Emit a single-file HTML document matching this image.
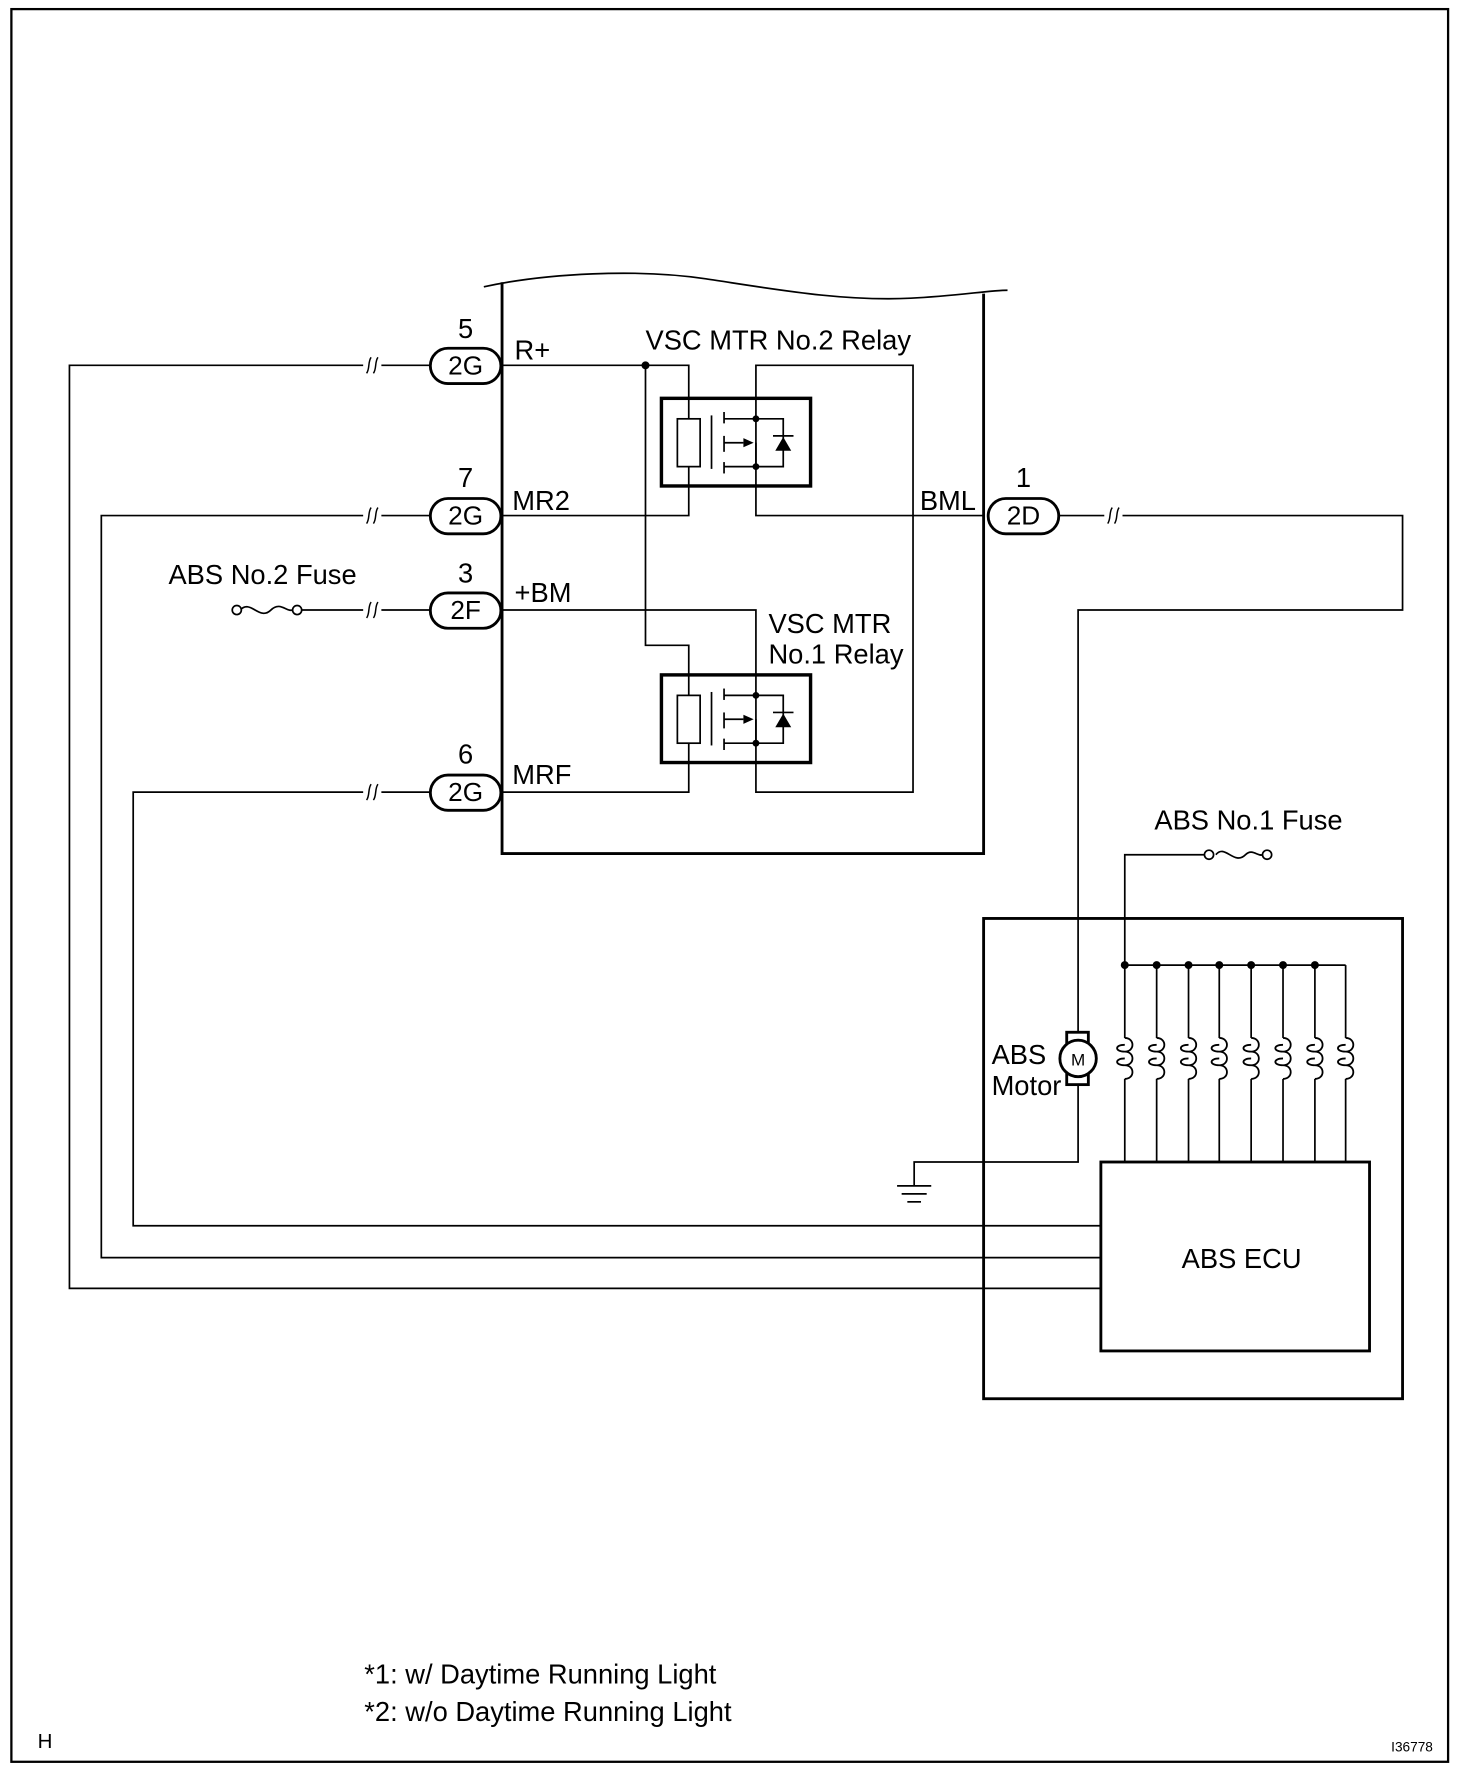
<!DOCTYPE html>
<html><head><meta charset="utf-8"><style>
html,body{margin:0;padding:0;background:#fff}
svg{display:block}
text{font-family:"Liberation Sans",sans-serif;fill:#000}
</style></head><body>
<svg width="1472" height="1780" viewBox="0 0 1293 1564" preserveAspectRatio="none" xmlns="http://www.w3.org/2000/svg">
<defs>
<g id="relay">
 <rect x="0" y="0" width="131" height="77" fill="none" stroke="#000" stroke-width="3"/>
 <rect x="14" y="18" width="20" height="42" fill="#fff" stroke="#000" stroke-width="1.5"/>
 <line x1="44" y1="15" x2="44" y2="62" stroke="#000" stroke-width="1.5"/>
 <line x1="55" y1="12" x2="55" y2="22" stroke="#000" stroke-width="1.5"/>
 <line x1="55" y1="33" x2="55" y2="47" stroke="#000" stroke-width="1.5"/>
 <line x1="55" y1="56" x2="55" y2="66" stroke="#000" stroke-width="1.5"/>
 <line x1="55" y1="18" x2="83" y2="18" stroke="#000" stroke-width="1.5"/>
 <line x1="55" y1="60" x2="83" y2="60" stroke="#000" stroke-width="1.5"/>
 <line x1="55" y1="39" x2="72" y2="39" stroke="#000" stroke-width="1.5"/>
 <polygon points="72,35 81,39 72,43" fill="#000"/>
 <line x1="83" y1="39" x2="83" y2="60" stroke="#000" stroke-width="1.5"/>
 <polyline points="83,18 107,18 107,60 83,60" fill="none" stroke="#000" stroke-width="1.5"/>
 <polygon points="107,34 100,46 114,46" fill="#000"/>
 <line x1="98" y1="33" x2="116" y2="33" stroke="#000" stroke-width="1.5"/>
 <circle cx="83" cy="18" r="3" fill="#000"/>
 <circle cx="83" cy="60" r="3" fill="#000"/>
</g>
<g id="brk">
 <path d="M-5,7 C-2,3 -4,-3 -1,-7" fill="none" stroke="#000" stroke-width="1.3"/>
 <path d="M1,7 C4,3 2,-3 5,-7" fill="none" stroke="#000" stroke-width="1.3"/>
</g>
<g id="coil">
 <path d="M0,0 C9,0 9,12 0,12 C-9,12 -9,6 0,6 M0,12 C9,12 9,24 0,24 C-9,24 -9,18 0,18 M0,24 C9,24 9,36 0,36" fill="none" stroke="#000" stroke-width="1.6"/>
</g>
</defs>
<g stroke="#000" fill="none">
<rect x="10" y="8" width="1262" height="1540" stroke-width="2"/>
<path d="M425,252 C480,240 560,236 620,245 C680,254 740,265 800,262 C840,260 870,255 885,255" stroke-width="1.5"/>
<polyline points="441,248 441,750 864,750 864,258" stroke-width="2.5"/>
<g stroke-width="1.5">
<polyline points="441,321 605,321 605,453 441,453"/>
<polyline points="567,321 567,567 605,567 605,696 441,696"/>
<polyline points="441,536 664,536 664,696 802,696 802,321 664,321 664,453 864,453"/>
<polyline points="378,321 61,321 61,1132 968,1132"/>
<polyline points="378,453 89,453 89,1105 968,1105"/>
<polyline points="378,696 117,696 117,1077 968,1077"/>
<line x1="264" y1="536" x2="378" y2="536"/>
<path d="M211,536 C220,526 228,546 238,536 C246,528 252,538 257,536"/>
<polyline points="931,453 1232,453 1232,536 947,536 947,908"/>
<polyline points="947,951 947,1021 803,1021 803,1042"/>
<line x1="788" y1="1042" x2="818" y2="1042"/>
<line x1="792" y1="1049" x2="814" y2="1049"/>
<line x1="797" y1="1056" x2="809" y2="1056"/>
<polyline points="1060,751 988,751 988,848 1182,848"/>
<path d="M1068,751 C1076,741 1084,761 1094,751 C1100,745 1105,753 1109,751"/>
</g>
<circle cx="208" cy="536" r="4" fill="#fff" stroke-width="1.5"/>
<circle cx="261" cy="536" r="4" fill="#fff" stroke-width="1.5"/>
<circle cx="1062" cy="751" r="4" fill="#fff" stroke-width="1.5"/>
<circle cx="1113" cy="751" r="4" fill="#fff" stroke-width="1.5"/>
<g stroke-width="2.5" fill="#fff">
<rect x="378" y="306" width="62" height="31" rx="15.5"/>
<rect x="378" y="438" width="62" height="31" rx="15.5"/>
<rect x="378" y="521" width="62" height="31" rx="15.5"/>
<rect x="378" y="681" width="62" height="31" rx="15.5"/>
<rect x="868" y="438" width="62" height="31" rx="15.5"/>
</g>
<rect x="864" y="807" width="368" height="422" stroke-width="2.5"/>
<rect x="967" y="1021" width="236" height="166" stroke-width="2.5"/>
<rect x="937" y="907" width="19" height="46" fill="#fff" stroke-width="2.5"/>
<circle cx="947" cy="930" r="16" fill="#fff" stroke-width="2.5"/>
</g>
<use href="#relay" x="581" y="350"/>
<use href="#relay" x="581" y="593"/>
<g fill="#000">
<circle cx="567" cy="321" r="3.5"/>
<circle cx="988" cy="848" r="3.5"/><circle cx="1016" cy="848" r="3.5"/><circle cx="1044" cy="848" r="3.5"/><circle cx="1071" cy="848" r="3.5"/><circle cx="1099" cy="848" r="3.5"/><circle cx="1127" cy="848" r="3.5"/><circle cx="1155" cy="848" r="3.5"/>
</g>
<g stroke="#000" stroke-width="1.5">
<line x1="988" y1="848" x2="988" y2="912"/><line x1="988" y1="948" x2="988" y2="1021"/>
<line x1="1016" y1="848" x2="1016" y2="912"/><line x1="1016" y1="948" x2="1016" y2="1021"/>
<line x1="1044" y1="848" x2="1044" y2="912"/><line x1="1044" y1="948" x2="1044" y2="1021"/>
<line x1="1071" y1="848" x2="1071" y2="912"/><line x1="1071" y1="948" x2="1071" y2="1021"/>
<line x1="1099" y1="848" x2="1099" y2="912"/><line x1="1099" y1="948" x2="1099" y2="1021"/>
<line x1="1127" y1="848" x2="1127" y2="912"/><line x1="1127" y1="948" x2="1127" y2="1021"/>
<line x1="1155" y1="848" x2="1155" y2="912"/><line x1="1155" y1="948" x2="1155" y2="1021"/>
<line x1="1182" y1="848" x2="1182" y2="912"/><line x1="1182" y1="948" x2="1182" y2="1021"/>
</g>
<use href="#coil" x="988" y="912"/><use href="#coil" x="1016" y="912"/><use href="#coil" x="1044" y="912"/><use href="#coil" x="1071" y="912"/>
<use href="#coil" x="1099" y="912"/><use href="#coil" x="1127" y="912"/><use href="#coil" x="1155" y="912"/><use href="#coil" x="1182" y="912"/>
<rect x="319" y="310" width="16" height="22" fill="#fff"/>
<rect x="319" y="442" width="16" height="22" fill="#fff"/>
<rect x="319" y="525" width="16" height="22" fill="#fff"/>
<rect x="319" y="685" width="16" height="22" fill="#fff"/>
<rect x="970" y="442" width="16" height="22" fill="#fff"/>
<use href="#brk" x="327" y="321"/><use href="#brk" x="327" y="453"/><use href="#brk" x="327" y="536"/><use href="#brk" x="327" y="696"/><use href="#brk" x="978" y="453"/>
<g font-size="23">
<text x="409" y="329" text-anchor="middle">2G</text>
<text x="409" y="461" text-anchor="middle">2G</text>
<text x="409" y="544" text-anchor="middle">2F</text>
<text x="409" y="704" text-anchor="middle">2G</text>
<text x="899" y="461" text-anchor="middle">2D</text>
</g>
<g font-size="24">
<text x="409" y="297" text-anchor="middle">5</text>
<text x="409" y="428" text-anchor="middle">7</text>
<text x="409" y="512" text-anchor="middle">3</text>
<text x="409" y="671" text-anchor="middle">6</text>
<text x="899" y="428" text-anchor="middle">1</text>
<text x="452" y="316">R+</text>
<text x="450" y="448">MR2</text>
<text x="452" y="529">+BM</text>
<text x="450" y="689">MRF</text>
<text x="808" y="448">BML</text>
<text x="567" y="307">VSC MTR No.2 Relay</text>
<text x="675" y="556">VSC MTR</text>
<text x="675" y="583">No.1 Relay</text>
<text x="148" y="513">ABS No.2 Fuse</text>
<text x="1014" y="729">ABS No.1 Fuse</text>
<text x="871" y="935">ABS</text>
<text x="871" y="962">Motor</text>
<text x="1038" y="1114">ABS ECU</text>
<text x="320" y="1479">*1: w/ Daytime Running Light</text>
<text x="320" y="1512">*2: w/o Daytime Running Light</text>
</g>
<text x="33" y="1536" font-size="18">H</text>
<text x="1222" y="1539" font-size="12">I36778</text>
<text x="947" y="936" font-size="15" text-anchor="middle">M</text>
</svg>
</body></html>
